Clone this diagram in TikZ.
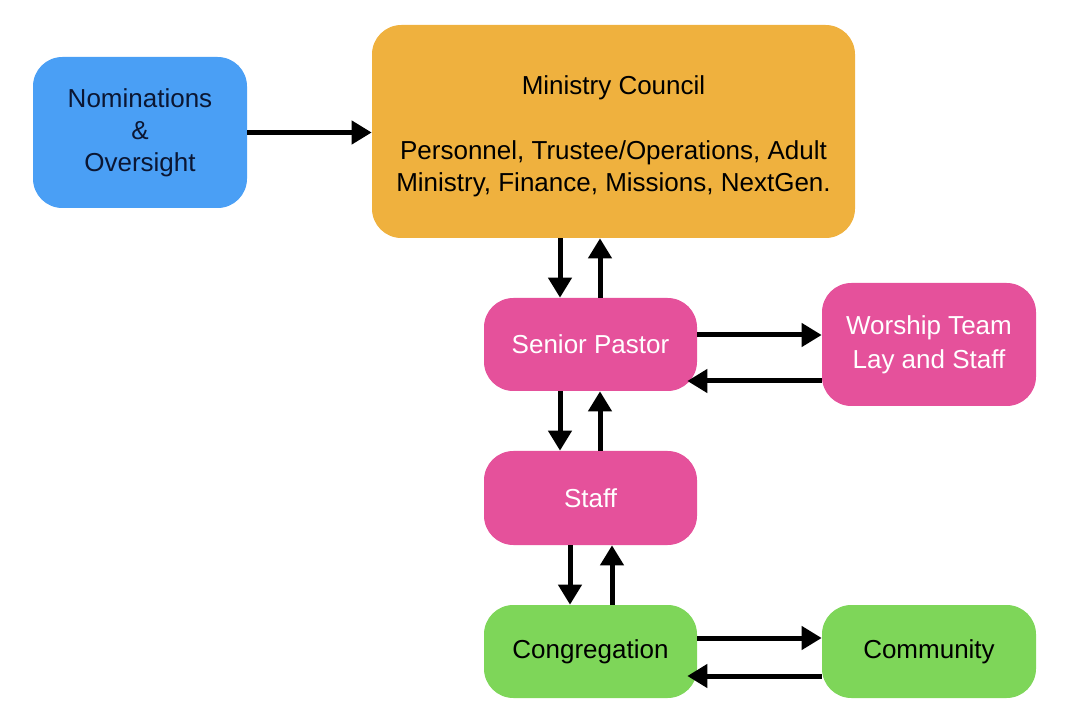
\documentclass[tikz,border=0pt]{standalone}
\usepackage{fontspec}
\setmainfont{Liberation Sans}
\usetikzlibrary{arrows.meta,calc}
\definecolor{cblue}{HTML}{4A9FF5}
\definecolor{cnavy}{HTML}{0B1632}
\definecolor{corange}{HTML}{EFB13E}
\definecolor{cpink}{HTML}{E5519B}
\definecolor{cgreen}{HTML}{7ED659}
\begin{document}
\begin{tikzpicture}[x=0.75pt,y=-0.75pt,
  box/.style={rectangle, rounded corners=22pt, inner sep=0pt, align=center,
    font=\fontsize{19.5}{24}\selectfont},
  pinkbox/.style={box, fill=cpink, text=white},
  greenbox/.style={box, fill=cgreen, text=black},
  arr/.style={line width=3.75pt, -{Triangle[length=15pt,width=17pt]}}]
\useasboundingbox (0,0) rectangle (1065,720);
\node[box, fill=cblue, text=cnavy, minimum width=160.5pt, minimum height=113.25pt] (nom) at (140,132.5) {Nominations\\\&\\Oversight};
\node[box, fill=corange, text=black, minimum width=362.25pt, minimum height=159.75pt] (mc) at (613.5,131.5) {\rule{0pt}{21.7pt}Ministry Council\\[24.75pt]Personnel, Trustee/Operations, Adult\\Ministry, Finance, Missions, NextGen.};
\node[pinkbox, minimum width=159.75pt, minimum height=69.75pt] (sp) at (590.5,344.5) {Senior Pastor};
\node[pinkbox, minimum width=160.5pt, minimum height=92.25pt] (ws) at (929,344.5) {Worship Team\\[1.5pt]Lay and Staff};
\node[pinkbox, minimum width=159.75pt, minimum height=70.5pt] (st) at (590.5,498) {Staff};
\node[greenbox, minimum width=159.75pt, minimum height=69.75pt] (cg) at (590.5,651.5) {Congregation};
\node[greenbox, minimum width=160.5pt, minimum height=69.75pt] (cm) at (929,651.5) {Community};

\draw[arr] (nom.east) -- (nom.east -| mc.west);

\draw[arr] ([xshift=-22.875pt]sp.north |- mc.south) -- ([xshift=-22.875pt]sp.north);
\draw[arr] ([xshift=7.125pt]sp.north) -- ([xshift=7.125pt]sp.north |- mc.south);

\draw[arr] ([xshift=-22.875pt]sp.south) -- ([xshift=-22.875pt]st.north);
\draw[arr] ([xshift=7.125pt]st.north) -- ([xshift=7.125pt]sp.south);

\draw[arr] ([xshift=-15.375pt]st.south) -- ([xshift=-15.375pt]cg.north);
\draw[arr] ([xshift=16.125pt]cg.north) -- ([xshift=16.125pt]st.south);

\draw[arr] ([yshift=7.125pt]sp.east) -- ([yshift=7.125pt]sp.east -| ws.west);
\draw[arr] ([yshift=-27.375pt]ws.west) -- ([yshift=-27.375pt,xshift=-7.5pt]sp.east);

\draw[arr] ([yshift=10.125pt]cg.east) -- ([yshift=10.125pt]cg.east -| cm.west);
\draw[arr] ([yshift=-18.375pt]cm.west) -- ([yshift=-18.375pt,xshift=-7.5pt]cg.east);
\end{tikzpicture}
\end{document}
